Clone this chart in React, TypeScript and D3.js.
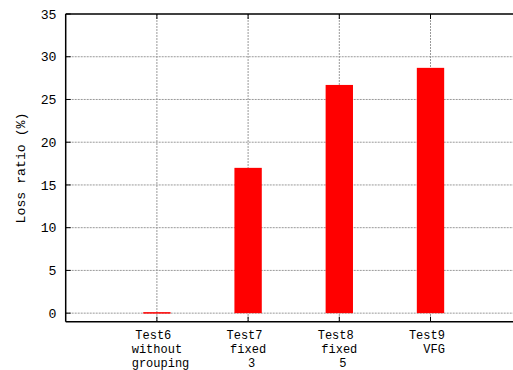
import React from "react";
import * as d3 from "d3";

const categories = [
  ["Test6 ", "without", " grouping"],
  ["Test7 ", "fixed", " 3"],
  ["Test8 ", "fixed", " 5"],
  ["Test9 ", " VFG"],
];
const positions = [1, 2, 3, 4];
const lossRatio = [0.12, 17.0, 26.7, 28.7];
const yTicks = [0, 5, 10, 15, 20, 25, 30, 35];
const yTitle = "Loss ratio (%)";

const W = 513;
const H = 370;
const FONT = "'Liberation Mono', 'Courier New', monospace";
const FS = 13.2;
const FSX = 12;

export default function App() {
  const x = d3.scaleLinear().domain([0, 5]).range([65.7, 521.7]);
  const y = d3.scaleLinear().domain([-1, 35]).range([321.7, 14]);
  const boxW = x(0.3) - x(0);
  const left = x(0);
  const right = x(5);
  const top = y(35);
  const bottom = y(-1);

  return (
    <svg
      width={W}
      height={H}
      style={{ position: "absolute", left: 0, top: 0, background: "#fff" }}
      fontFamily={FONT}
    >
      <rect x={0} y={0} width={W} height={H} fill="#fff" />
      {/* grid */}
      {yTicks.filter((t) => t < 35).map((t) => (
        <line key={"gy" + t} x1={left} x2={right} y1={y(t)} y2={y(t)} stroke="#999" strokeWidth={1} strokeDasharray="2,1" />
      ))}
      {positions.map((p) => (
        <line key={"gx" + p} x1={x(p)} x2={x(p)} y1={top} y2={bottom} stroke="#999" strokeWidth={1} strokeDasharray="2,1" />
      ))}
      {/* bars */}
      {lossRatio.map((v, i) => (
        <rect
          key={"b" + i}
          x={x(positions[i]) - boxW / 2}
          y={y(v)}
          width={boxW}
          height={Math.max(1.5, y(0) - y(v))}
          fill="#ff0000"
        />
      ))}
      {/* ticks */}
      {yTicks.map((t) => (
        <g key={"ty" + t}>
          <line x1={left} x2={left + 5} y1={y(t)} y2={y(t)} stroke="#000" strokeWidth={1} />
          <text x={56.5} y={y(t)} dy="0.35em" textAnchor="end" fontSize={FS} fill="#000">
            {t}
          </text>
        </g>
      ))}
      {positions.map((p, i) => (
        <g key={"tx" + p}>
          <line x1={x(p)} x2={x(p)} y1={bottom} y2={bottom - 5} stroke="#000" strokeWidth={1} />
          <line x1={x(p)} x2={x(p)} y1={top} y2={top + 5} stroke="#000" strokeWidth={1} />
          {categories[i].map((line, j) => (
            <text
              key={j}
              x={x(p)}
              y={339.3 + j * 13.7}
              textAnchor="middle"
              fontSize={FSX}
              fill="#000"
              style={{ whiteSpace: "pre" }}
            >
              {line}
            </text>
          ))}
        </g>
      ))}
      {/* frame */}
      <line x1={left} x2={right} y1={top} y2={top} stroke="#000" strokeWidth={1.5} />
      <line x1={left} x2={right} y1={bottom} y2={bottom} stroke="#000" strokeWidth={1.5} />
      <line x1={left} x2={left} y1={top} y2={bottom} stroke="#000" strokeWidth={1.5} />
      <text
        transform={`translate(20.5,168) rotate(-90)`}
        textAnchor="middle"
        dy="0.35em"
        fontSize={FS}
        fill="#000"
      >
        {yTitle}
      </text>
    </svg>
  );
}
